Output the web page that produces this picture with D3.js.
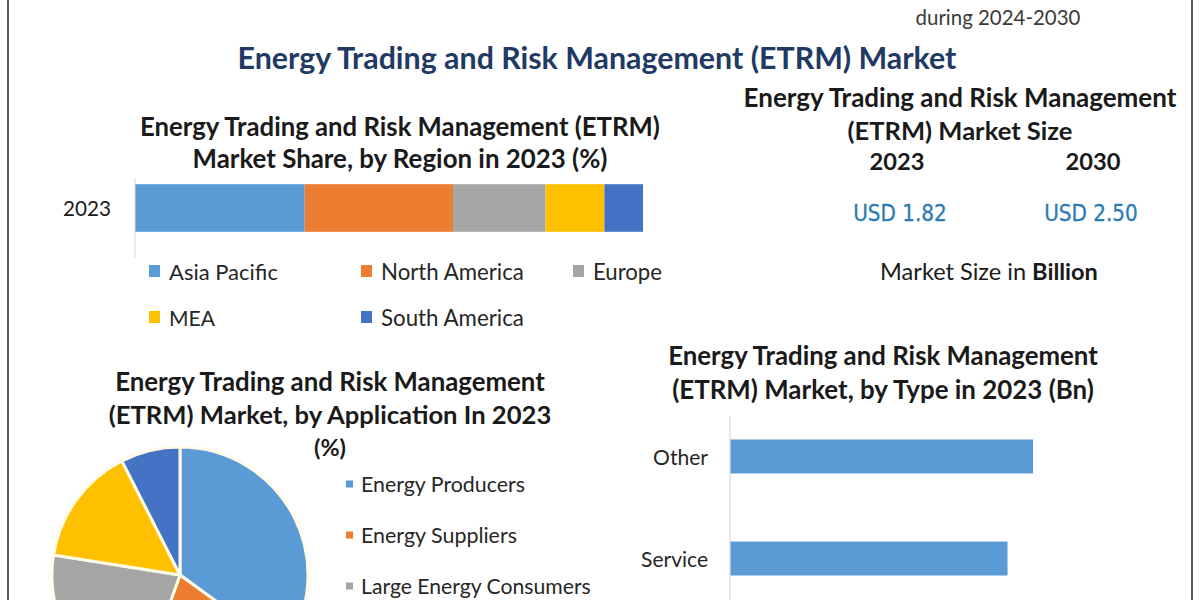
<!DOCTYPE html>
<html><head><meta charset="utf-8">
<script src="https://cdn.jsdelivr.net/npm/d3@7"></script>
<style>html,body{margin:0;padding:0;background:#fff;}svg{display:block;font-family:Lato,"Open Sans",sans-serif;}</style>
</head><body>
<svg id="c" width="1200" height="600"></svg>
<script>
// ---- data ----
const regions = ["Asia Pacific", "North America", "Europe", "MEA", "South America"];
const regionShare = [33.4, 29.2, 18.2, 11.6, 7.6];
const regionYear = ["2023"];
const applications = ["Energy Producers", "Energy Suppliers", "Large Energy Consumers", "Utilities", "Others"];
const applicationShare = [35, 20.5, 22, 15, 7.5];
const types = ["Other", "Service"];
const typeValues = [0.95, 0.87];
const sizeYears = ["2023", "2030"];
const sizeValues = [1.82, 2.50];

const palette = ["#5b9bd5", "#ed7d31", "#a5a5a5", "#ffc000", "#4472c4"];

const svg = d3.select("#c");
svg.append("rect").attr("width", 1200).attr("height", 600).attr("fill", "#fff");
// frame lines
svg.append("line").attr("x1", 8).attr("x2", 8).attr("y1", 0).attr("y2", 600).attr("stroke", "#5a5f63").attr("stroke-width", 2);
svg.append("line").attr("x1", 1192).attr("x2", 1192).attr("y1", 0).attr("y2", 600).attr("stroke", "#5a5f63").attr("stroke-width", 2);

function txt(x, y, s, size, opts = {}) {
  const t = svg.append("text").attr("x", x).attr("y", y).attr("font-size", size)
    .attr("text-anchor", opts.anchor || "middle").attr("dominant-baseline", "central")
    .attr("font-weight", opts.bold ? 700 : 400).attr("fill", opts.fill || "#1a1a1a").text(s);
  if (opts.w) {
    const cur = t.node().getComputedTextLength();
    t.attr("font-size", size * opts.w / cur);
  }
  return t;
}

// header
txt(998, 17, "during 2024-2030", 18, { fill: "#3a3a3a", w: 165 });
txt(597, 57, "Energy Trading and Risk Management (ETRM) Market", 28, { bold: true, fill: "#213a63", w: 719 });

// ---- Region stacked bar ----
txt(400, 126, "Energy Trading and Risk Management (ETRM)", 23, { bold: true, w: 520 });
txt(400, 158, "Market Share, by Region in 2023 (%)", 23, { bold: true, w: 415 });

const xR = d3.scaleLinear().domain([0, 100]).range([135, 643]);
const yR = d3.scaleBand().domain(regionYear).range([178, 238]).paddingInner(0).paddingOuter(0.13);
let acc = 0;
const stacks = regionShare.map((v, i) => { const s = { x0: acc, x1: acc + v, i }; acc += v; return s; });
svg.append("g").selectAll("rect").data(stacks).join("rect")
  .attr("x", d => xR(d.x0)).attr("width", d => xR(d.x1) - xR(d.x0))
  .attr("y", yR("2023")).attr("height", yR.bandwidth())
  .attr("fill", d => palette[d.i]);
svg.append("line").attr("x1", xR(0)).attr("x2", xR(0)).attr("y1", 178).attr("y2", 258).attr("stroke", "#d9d9d9").attr("stroke-width", 1);
txt(111, yR("2023") + yR.bandwidth() / 2, "2023", 19, { anchor: "end", w: 48 });

// legend
const legPos = [[149, 271], [361, 271], [573, 271], [149, 317], [361, 317]];
const legW = [109, 143, 69, 46, 143];
regions.forEach((r, i) => {
  const [lx, ly] = legPos[i];
  svg.append("rect").attr("x", lx).attr("y", ly - 6).attr("width", 11).attr("height", 12).attr("fill", palette[i]);
  txt(lx + 20, ly, r, 19, { anchor: "start", fill: "#262626", w: legW[i] });
});

// ---- Market size panel ----
txt(960, 97, "Energy Trading and Risk Management", 24, { bold: true, w: 433 });
txt(960, 130, "(ETRM) Market Size", 24, { bold: true, w: 225 });
const xS = d3.scalePoint().domain(sizeYears).range([897, 1093]);
sizeYears.forEach((yr, i) => {
  txt(xS(yr), 161, yr, 24, { bold: true, w: 55 });
  txt(xS(yr) + (i === 0 ? 3 : -2), 213, "USD " + sizeValues[i].toFixed(2), 19, { bold: true, fill: "#2b7cb3", w: 95 })
    .attr("font-family", "'Liberation Sans Narrow','DejaVu Sans Condensed',Arial,sans-serif")
    .attr("font-weight", 400).attr("stroke", "#2b7cb3").attr("stroke-width", 0.3);
});
const ms = svg.append("text").attr("x", 989).attr("y", 271).attr("text-anchor", "middle").attr("dominant-baseline", "central")
  .attr("font-size", 20).attr("fill", "#1a1a1a");
ms.append("tspan").text("Market Size in ");
ms.append("tspan").attr("font-weight", 700).text("Billion");
{ const cur = ms.node().getComputedTextLength(); ms.attr("font-size", 20 * 218 / cur); }

// ---- Application pie ----
txt(330, 381, "Energy Trading and Risk Management", 23, { bold: true, w: 430 });
txt(330, 414, "(ETRM) Market, by Application In 2023", 23, { bold: true, w: 443 });
txt(330, 447, "(%)", 23, { bold: true, w: 32 });

const pie = d3.pie().sort(null).value(d => d)(applicationShare);
const arc = d3.arc().innerRadius(0).outerRadius(128);
svg.append("g").attr("transform", "translate(180,575)").selectAll("path").data(pie).join("path")
  .attr("d", arc).attr("fill", (d, i) => palette[i]).attr("stroke", "#fffbe6").attr("stroke-width", 3);

// legend: only the entries that fall inside the visible area are shown
const yL = d3.scalePoint().domain(applications).range([484, 688]);
const legWA = [164, 156, 230];
applications.filter(a => yL(a) < 600).forEach((a, i) => {
  svg.append("rect").attr("x", 346).attr("y", yL(a) - 3.5).attr("width", 7).attr("height", 7).attr("fill", palette[i]);
  txt(361, yL(a), a, 19, { anchor: "start", fill: "#262626", w: legWA[i] });
});

// ---- Type bar chart ----
txt(883, 355, "Energy Trading and Risk Management", 23, { bold: true, w: 430 });
txt(883, 389, "(ETRM) Market, by Type in 2023 (Bn)", 23, { bold: true, w: 422 });
const xT = d3.scaleLinear().domain([0, 1]).range([730, 1049]);
const yT = d3.scaleBand().domain(types).range([405, 610]).paddingInner(0.667).paddingOuter(0.338);
svg.append("g").selectAll("rect").data(types).join("rect")
  .attr("x", xT(0)).attr("width", (d, i) => xT(typeValues[i]) - xT(0))
  .attr("y", d => yT(d)).attr("height", yT.bandwidth()).attr("fill", "#5b9bd5");
svg.append("line").attr("x1", xT(0)).attr("x2", xT(0)).attr("y1", 416).attr("y2", 600).attr("stroke", "#d9d9d9").attr("stroke-width", 1.2);
const labW = [55, 67];
types.forEach((t, i) => txt(708, yT(t) + yT.bandwidth() / 2, t, 19, { anchor: "end", fill: "#262626", w: labW[i] }));
</script>
</body></html>
